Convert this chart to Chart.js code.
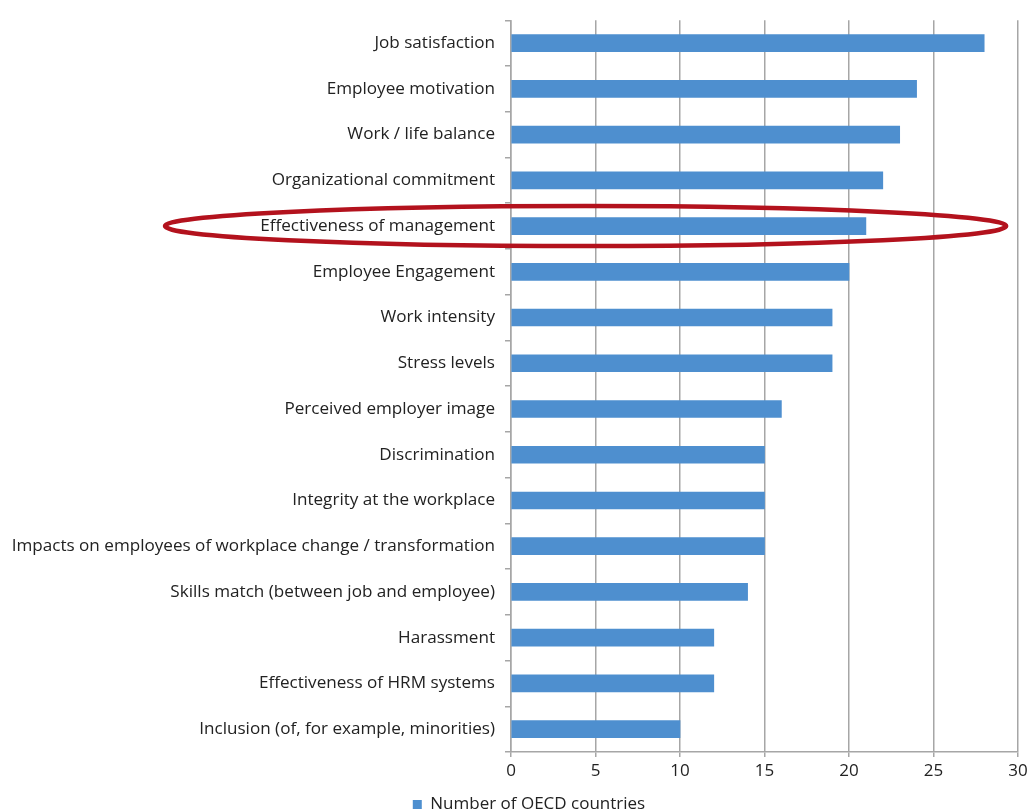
<!DOCTYPE html>
<html>
<head>
<meta charset="utf-8">
<script src="https://cdn.jsdelivr.net/npm/chart.js@4"></script>
<style>
  html, body { margin: 0; padding: 0; background: #fff; }
  #wrap { width: 1028px; height: 812px; }
</style>
</head>
<body>
<div id="wrap"><canvas id="c" width="1028" height="812"></canvas></div>
<script>
const categories = [
  "Job satisfaction",
  "Employee motivation",
  "Work / life balance",
  "Organizational commitment",
  "Effectiveness of management",
  "Employee Engagement",
  "Work intensity",
  "Stress levels",
  "Perceived employer image",
  "Discrimination",
  "Integrity at the workplace",
  "Impacts on employees of workplace change / transformation",
  "Skills match (between job and employee)",
  "Harassment",
  "Effectiveness of HRM systems",
  "Inclusion (of, for example, minorities)"
];
const countries = [28, 24, 23, 22, 21, 20, 19, 19, 16, 15, 15, 15, 14, 12, 12, 10];
const seriesName = "Number of OECD countries";
const xTicks = [0, 5, 10, 15, 20, 25, 30];
const highlighted = "Effectiveness of management";

const FONT = "'Open Sans', sans-serif";
const TEXT = "#222222";
const GRID = "#a6a6a6";

// Red ring drawn around the highlighted row
const ringPlugin = {
  id: "ring",
  afterDraw(chart) {
    const y = chart.scales.y;
    const x = chart.scales.x;
    const idx = categories.indexOf(highlighted);
    const cy = y.getPixelForValue(idx);
    const leftEdge = 165;
    const rightEdge = x.getPixelForValue(29.3);
    const cx = (leftEdge + rightEdge) / 2;
    const rx = (rightEdge - leftEdge) / 2;
    const ctx = chart.ctx;
    ctx.save();
    ctx.beginPath();
    ctx.ellipse(cx, cy, rx, 20, 0, 0, Math.PI * 2);
    ctx.strokeStyle = "#b3121d";
    ctx.lineWidth = 4.5;
    ctx.stroke();
    ctx.restore();
  }
};

new Chart(document.getElementById("c"), {
  type: "bar",
  data: {
    labels: categories,
    datasets: [{
      label: seriesName,
      data: countries,
      backgroundColor: "#4e8fcf",
      borderWidth: 0,
      barThickness: 17
    }]
  },
  options: {
    indexAxis: "y",
    responsive: false,
    animation: false,
    devicePixelRatio: 1,
    layout: { padding: { left: 40, right: 10, top: 16, bottom: 0 } },
    scales: {
      x: {
        min: 0,
        max: 30,
        afterBuildTicks(scale) { scale.ticks = xTicks.map(v => ({ value: v })); },
        afterFit(scale) {
          scale.height = 42;
          scale.paddingLeft = 0;
          scale.paddingRight = 0;
        },
        grid: { color: GRID, lineWidth: 1.5, tickLength: 5, drawTicks: true },
        border: { color: GRID, width: 1.5 },
        ticks: { color: TEXT, font: { family: FONT, size: 17 }, padding: 4 }
      },
      y: {
        afterFit(scale) {
          scale.width = 511 - 40;
          // let the longest category name run past the left padding
          scale._computeLabelArea = () => undefined;
        },
        grid: { drawOnChartArea: false, drawTicks: true, tickLength: 6, color: GRID, lineWidth: 1.5, offset: true },
        border: { color: GRID, width: 1.5 },
        ticks: { color: TEXT, font: { family: FONT, size: 17.1 }, padding: 10, autoSkip: false }
      }
    },
    plugins: {
      legend: {
        position: "bottom",
        maxHeight: 18,
        labels: {
          color: TEXT,
          font: { family: FONT, size: 17 },
          boxWidth: 9,
          boxHeight: 9,
          padding: 2
        }
      },
      tooltip: { enabled: false }
    }
  },
  plugins: [ringPlugin]
});
</script>
</body>
</html>
